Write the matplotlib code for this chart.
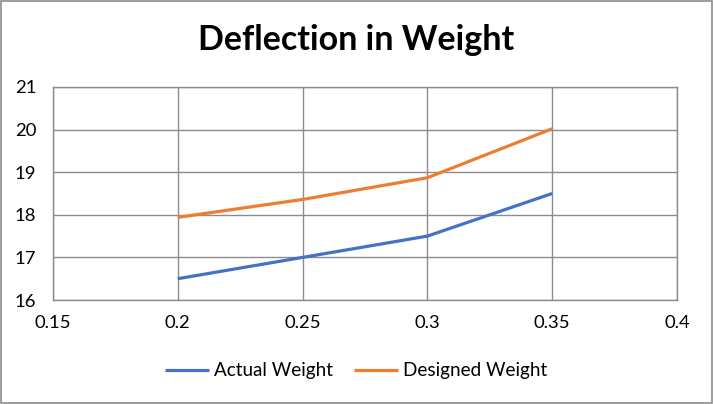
import matplotlib.pyplot as plt
from matplotlib.patches import Rectangle

plt.rcParams['font.family'] = ['Lato', 'DejaVu Sans']

# data
x = [0.2, 0.25, 0.3, 0.35]
actual = [16.5, 17.0, 17.5, 18.5]
designed = [17.94, 18.36, 18.87, 20.02]
xticks = [0.15, 0.2, 0.25, 0.3, 0.35, 0.4]
yticks = [16, 17, 18, 19, 20, 21]

fig = plt.figure(figsize=(7.13, 4.04), dpi=100)
ax = fig.add_axes([0.0743, 0.2574, 0.8752, 0.5273])

ax.plot(x, actual, color='#4472C4', lw=2.3, label='Actual Weight', solid_capstyle='butt')
ax.plot(x, designed, color='#ED7D31', lw=2.3, label='Designed Weight', solid_capstyle='butt')

ax.set_xlim(0.15, 0.4)
ax.set_ylim(16, 21)
ax.set_xticks(xticks)
ax.set_xticklabels(['0.15', '0.2', '0.25', '0.3', '0.35', '0.4'])
ax.set_yticks(yticks)
ax.tick_params(length=0, labelsize=13.3, colors='#000000')
ax.tick_params(axis='x', pad=11)
ax.tick_params(axis='y', pad=12)
ax.grid(True, color='#8c8c8c', lw=1)
ax.set_axisbelow(True)
for s in ax.spines.values():
    s.set_color('#8c8c8c')
    s.set_linewidth(1)

fig.text(0.5, 0.9, 'Deflection in Weight', ha='center', va='center',
         fontsize=24.5, fontweight='bold')

fig.legend(loc='center', bbox_to_anchor=(0.5, 0.082), ncol=2, frameon=False,
           fontsize=13.6, handlelength=2.3, columnspacing=1.1, handletextpad=0.3)

fig.patches.append(Rectangle((0.001, 0.002), 0.997, 0.995, transform=fig.transFigure,
                             fill=False, edgecolor='#8c8c8c', lw=1.2))

fig.savefig('out.png', dpi=100)
